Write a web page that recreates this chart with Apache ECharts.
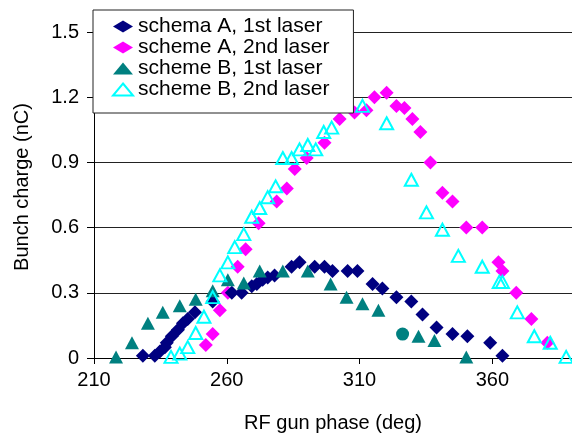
<!DOCTYPE html>
<html>
<head>
    <meta charset="UTF-8"/>
    <script type="text/javascript" src="https://cdn.jsdelivr.net/npm/echarts@6/dist/echarts.min.js"></script>
    <title>Bunch charge vs RF gun phase</title>
    <style>
        html, body {margin: 0; padding: 0; background: #fff;}
        #main {width: 572px; height: 439px;}
    </style>
</head>
<body>
<div id="main"></div>
<script type="text/javascript">
    // schema A, 1st laser
    var phaseA1 = [228.4, 232.9, 234.8, 236.7, 237.4, 239.3, 241.6, 243.5, 245.3, 248, 254.7, 261.9, 265.6,
        269.4, 271.3, 273.5, 275.4, 278, 284.4, 287.4, 293.1, 296.8, 299.8, 305.5, 309.2, 314.9, 318.6,
        323.9, 329.5, 333.7, 339, 345, 350.6, 359.2, 363.8]
    var chargeA1 = [0.01, 0.01, 0.03, 0.05, 0.07, 0.10, 0.13, 0.16, 0.18, 0.21, 0.26, 0.30, 0.30,
        0.33, 0.34, 0.36, 0.37, 0.38, 0.42, 0.44, 0.42, 0.42, 0.40, 0.40, 0.40, 0.34, 0.32,
        0.28, 0.26, 0.20, 0.14, 0.11, 0.10, 0.07, 0.01]

    // scheme A, 2nd laser
    var phaseA2 = [252.1, 254.7, 257.4, 260.4, 264.1, 267.1, 272, 278.8, 282.6, 285.6, 290.1, 296.8,
        302.5, 308.1, 312.6, 315.6, 320.2, 323.9, 326.9, 329.9, 332.9, 336.7, 341.2, 345, 350.2, 356.2,
        362.3, 363.8, 369, 374.7, 380.7]
    var chargeA2 = [0.06, 0.11, 0.22, 0.30, 0.42, 0.50, 0.62, 0.72, 0.78, 0.87, 0.92, 0.99,
        1.10, 1.13, 1.14, 1.20, 1.22, 1.16, 1.15, 1.10, 1.04, 0.90, 0.76, 0.72, 0.60, 0.60,
        0.44, 0.40, 0.30, 0.18, 0.07]

    // scheme B, 1st laser
    var phaseB1 = [218.3, 224.3, 230.3, 235.9, 242.3, 248.3, 254.7, 260.4, 266.4, 272.4, 281.1, 290.5,
        299.1, 305.1, 311.1, 317.1, 332.2, 338.2, 350.2]
    var chargeB1 = [0.005, 0.07, 0.16, 0.21, 0.24, 0.27, 0.31, 0.36, 0.345, 0.40, 0.40, 0.40,
        0.34, 0.28, 0.25, 0.22, 0.10, 0.08, 0.005]

    // scheme B, 1st laser - single point drawn as a circle
    var phaseB1c = [326.2]
    var chargeB1c = [0.11]

    // scheme B, 2nd laser
    var phaseB2 = [239, 242.3, 245.3, 248.3, 251.4, 254.7, 257.4, 260.4, 263, 266.4, 269.4, 272.4, 275.4,
        278.4, 281.1, 284.4, 287.4, 290.5, 293.5, 296.5, 299.5, 311.1, 320.2, 329.5, 335.2, 341.2, 347.2,
        356.2, 362.6, 363.8, 369.4, 375.8, 381.8, 387.8]
    var chargeB2 = [0.005, 0.02, 0.05, 0.115, 0.19, 0.28, 0.38, 0.44, 0.51, 0.57, 0.65, 0.69, 0.74,
        0.79, 0.92, 0.92, 0.96, 0.98, 0.96, 1.04, 1.06, 1.16, 1.08, 0.82, 0.67, 0.59, 0.47,
        0.42, 0.35, 0.35, 0.21, 0.10, 0.07, 0.005]

    var seriesNames = ['schema A, 1st laser', 'scheme A, 2nd laser', 'scheme B, 1st laser', 'scheme B, 2nd laser']
    var xTicks = [210, 260, 310, 360]
    var yTicks = [0, 0.3, 0.6, 0.9, 1.2, 1.5]

    var font = "'Liberation Sans', Arial, sans-serif"

    function pairs(xs, ys) {
        var out = []
        for (var i = 0; i < xs.length; i++) {
            out.push([xs[i], ys[i]])
        }
        return out
    }

    var myChart = echarts.init(document.getElementById('main'))

    var option = {
        animation: false,
        backgroundColor: '#fff',
        textStyle: {fontFamily: font},
        grid: {left: 94, right: 0, top: 32, bottom: 81},
        legend: {
            data: seriesNames,
            orient: 'vertical',
            left: 93,
            top: 10,
            backgroundColor: '#fff',
            borderColor: '#222',
            borderWidth: 1,
            padding: [6, 24, 13, 19],
            itemWidth: 20,
            itemHeight: 12,
            itemGap: 0,
            textStyle: {fontFamily: font, fontSize: 21, color: '#000', lineHeight: 21}
        },
        xAxis: {
            type: 'value',
            min: xTicks[0],
            max: 390,
            interval: xTicks[1] - xTicks[0],
            name: 'RF gun phase (deg)',
            nameLocation: 'middle',
            nameGap: 55,
            nameTextStyle: {fontFamily: font, fontSize: 20, color: '#000'},
            axisLine: {show: true, onZero: false, lineStyle: {color: '#000', width: 1}},
            axisTick: {show: true, inside: false, length: 6, lineStyle: {color: '#000'}},
            axisLabel: {
                fontFamily: font, fontSize: 20, color: '#000', margin: 12,
                showMaxLabel: false
            },
            splitLine: {show: false}
        },
        yAxis: {
            type: 'value',
            min: yTicks[0],
            max: yTicks[yTicks.length - 1],
            interval: 0.3,
            name: 'Bunch charge (nC)',
            nameLocation: 'middle',
            nameGap: 62,
            nameTextStyle: {fontFamily: font, fontSize: 20, color: '#000', padding: [0, 0, 0, 16]},
            axisLine: {show: true, onZero: false, lineStyle: {color: '#000', width: 1}},
            axisTick: {show: true, inside: false, length: 7, lineStyle: {color: '#000'}},
            axisLabel: {
                fontFamily: font, fontSize: 20, color: '#000', margin: 15,
                formatter: function (v) {
                    return v === 0 ? '0' : v.toFixed(1)
                }
            },
            splitLine: {show: true, lineStyle: {color: '#222', width: 1}}
        },
        series: [
            {
                name: seriesNames[0], type: 'scatter', symbol: 'diamond', symbolSize: 14,
                itemStyle: {color: '#000080', opacity: 1},
                data: pairs(phaseA1, chargeA1), z: 3
            },
            {
                name: seriesNames[1], type: 'scatter', symbol: 'diamond', symbolSize: 14,
                itemStyle: {color: '#FF00FF', opacity: 1},
                data: pairs(phaseA2, chargeA2), z: 2
            },
            {
                name: seriesNames[2], type: 'scatter', symbol: 'triangle', symbolSize: [14, 13],
                itemStyle: {color: '#008080', opacity: 1},
                data: pairs(phaseB1, chargeB1), z: 4
            },
            {
                name: 'B1 circle', type: 'scatter', symbol: 'circle', symbolSize: 13,
                itemStyle: {color: '#008080', opacity: 1},
                data: pairs(phaseB1c, chargeB1c), z: 4
            },
            {
                name: seriesNames[3], type: 'scatter', symbol: 'triangle', symbolSize: [13, 12],
                itemStyle: {color: 'rgba(255,255,255,0)', borderColor: '#00FFFF', borderWidth: 2, opacity: 1},
                data: pairs(phaseB2, chargeB2), z: 5
            }
        ]
    }

    myChart.setOption(option)
</script>
</body>
</html>
